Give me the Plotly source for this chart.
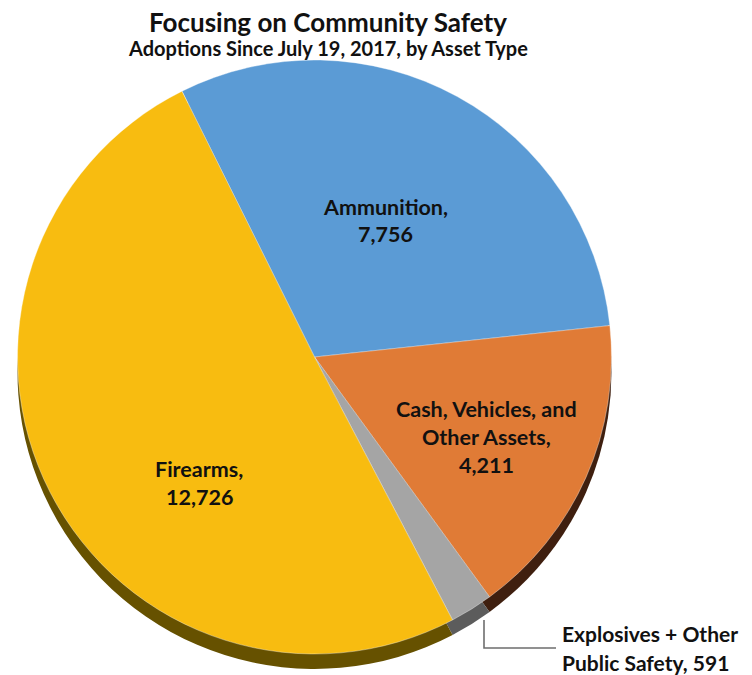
import plotly.graph_objects as go

# ---- data ----
categories = ["Ammunition", "Cash, Vehicles, and Other Assets",
              "Explosives + Other Public Safety", "Firearms"]
values = [7756, 4211, 591, 12726]
label_lines = [["Ammunition,", "7,756"],
               ["Cash, Vehicles, and", "Other Assets,", "4,211"],
               ["Explosives + Other", "Public Safety, 591"],
               ["Firearms,", "12,726"]]

# ---- style ----
colors = ["#5b9bd5", "#e07b36", "#a5a5a5", "#f8bc10"]
shadow_colors = ["#2e4e6b", "#3f1f0f", "#5c5c5c", "#665100"]
W, H = 752, 675
cx, cy, R = 314.5, 357, 297
depth = 15
rotation = -26.5
FONT = "Lato, Open Sans, sans-serif"

def px_x(x):
    return x / W

def px_y(y):
    return 1 - y / H

fig = go.Figure()

# extruded "side" of the 3D pie: same pie shifted downward, darker colours
fig.add_trace(go.Pie(
    labels=categories, values=values, sort=False, direction="clockwise",
    rotation=rotation, marker=dict(colors=shadow_colors, line=dict(width=0)),
    textinfo="none", hoverinfo="skip", showlegend=False,
    domain=dict(x=[px_x(cx - R), px_x(cx + R)],
                y=[px_y(cy + depth + R), px_y(cy + depth - R)]),
))
# top face
fig.add_trace(go.Pie(
    labels=categories, values=values, sort=False, direction="clockwise",
    rotation=rotation,
    marker=dict(colors=colors, line=dict(width=0.6, color="rgba(255,255,255,0.6)")),
    textinfo="none", hoverinfo="label+value", showlegend=False,
    domain=dict(x=[px_x(cx - R), px_x(cx + R)],
                y=[px_y(cy + R), px_y(cy - R)]),
))

annotations = []
font_lbl = dict(family=FONT, size=21.5, color="#111111", weight=700)

# inside labels: (centre x px, first line y px, spacing)
inside_pos = {0: (385, 207, 27), 1: (486, 409, 28), 3: (199, 469, 28)}
for i, (x0, y0, dy) in inside_pos.items():
    for k, line in enumerate(label_lines[i]):
        annotations.append(dict(
            x=px_x(x0), y=px_y(y0 + k * dy), xref="paper", yref="paper",
            text=line, showarrow=False, xanchor="center", yanchor="middle",
            font=font_lbl))

# outside label for explosives
for k, line in enumerate(label_lines[2]):
    annotations.append(dict(
        x=px_x(560), y=px_y(633 + k * 29), xref="paper", yref="paper",
        text=line, showarrow=False, xanchor="left", yanchor="middle",
        font=dict(family=FONT, size=21, color="#111111", weight=700)))

# title + subtitle
annotations.append(dict(
    x=px_x(328), y=px_y(22), xref="paper", yref="paper",
    text="Focusing on Community Safety", showarrow=False,
    xanchor="center", yanchor="middle",
    font=dict(family=FONT, size=26, color="#111111", weight=700)))
annotations.append(dict(
    x=px_x(328), y=px_y(48), xref="paper", yref="paper",
    text="Adoptions Since July 19, 2017, by Asset Type", showarrow=False,
    xanchor="center", yanchor="middle",
    font=dict(family=FONT, size=20, color="#111111", weight=700)))

# leader line for explosives label
shapes = [dict(
    type="path", xref="paper", yref="paper",
    path=f"M {px_x(484)} {px_y(620)} L {px_x(484)} {px_y(648)} L {px_x(556)} {px_y(648)}",
    line=dict(color="#6e6e6e", width=1.6))]

fig.update_layout(
    width=W, height=H, margin=dict(l=0, r=0, t=0, b=0),
    paper_bgcolor="white", plot_bgcolor="white",
    annotations=annotations, shapes=shapes, showlegend=False,
)

fig.write_html("out.html")
